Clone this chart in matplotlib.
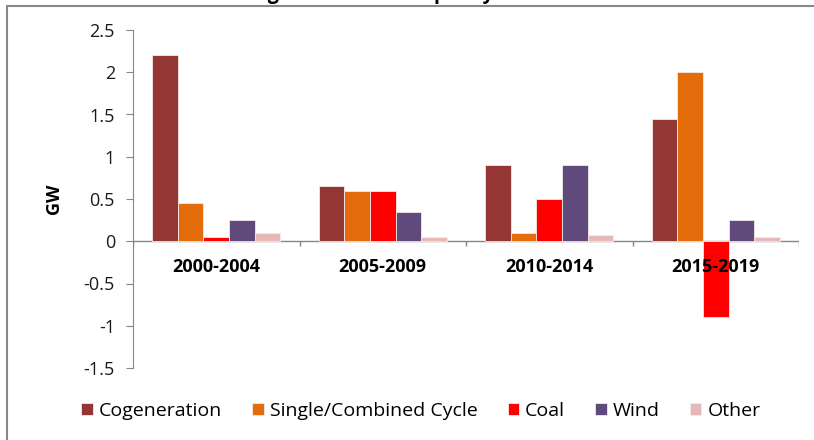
import numpy as np
import matplotlib.pyplot as plt
from matplotlib.patches import Rectangle

periods = ['2000-2004', '2005-2009', '2010-2014', '2015-2019']
types = ['Cogeneration', 'Single/Combined Cycle', 'Coal', 'Wind', 'Other']
cogeneration = [2.2, 0.65, 0.9, 1.45]
single_combined = [0.45, 0.6, 0.1, 2.0]
coal = [0.05, 0.6, 0.5, -0.9]
wind = [0.25, 0.35, 0.9, 0.25]
other = [0.1, 0.05, 0.07, 0.05]
colors = ['#943634', '#E46C0A', '#FF0000', '#604A7B', '#E6B9B8']
yticks = [-1.5, -1, -0.5, 0, 0.5, 1, 1.5, 2, 2.5]

plt.rcParams['font.family'] = ['Open Sans', 'DejaVu Sans']

fig = plt.figure(figsize=(8.14, 4.4), dpi=100)
ax = fig.add_axes([133/814, 1 - 368/440, 666/814, 338/440])

series = [cogeneration, single_combined, coal, wind, other]
x = np.arange(len(periods))
w = 1 / 6.5
handles = []
for k, (vals, c) in enumerate(zip(series, colors)):
    b = ax.bar(x + (k - 2) * w, vals, w, color=c, edgecolor='#f4eaea', lw=0.6, zorder=2)
    handles.append(b)

ax.set_xlim(-0.5, len(periods) - 0.5)
ax.set_ylim(-1.5, 2.5)
ax.set_yticks(yticks)
ax.set_yticklabels(['%g' % t for t in yticks])
ax.tick_params(axis='y', direction='out', length=5, color='#868686', labelsize=13,
               labelcolor='#1a1a1a', pad=8)
ax.set_xticks([])
for s in ['top', 'right', 'bottom']:
    ax.spines[s].set_visible(False)
ax.spines['left'].set_color('#868686')

# zero line with category tick marks
ax.axhline(0, color='#868686', lw=1, zorder=1)
ax.vlines(np.arange(len(periods) + 1) - 0.5, -0.06, 0, color='#868686', lw=1)
for i, p in enumerate(periods):
    ax.text(i, -0.3, p, ha='center', va='center', fontsize=13, fontweight='bold')

ax.set_ylabel('GW', fontsize=13, fontweight='bold', labelpad=15)

fig.legend(handles, types, loc='center', bbox_to_anchor=(0.517, 1 - 411/440), ncol=5,
           frameon=False, fontsize=14, handlelength=0.6, handleheight=0.6,
           handletextpad=0.3, columnspacing=1.55)

# outer chart border
fig.patches.append(Rectangle((7/814, -0.2), 1.2, 1.2 - 6/440, transform=fig.transFigure,
                             fill=False, edgecolor='#888888', lw=1.5))
fig.text(218/814, 1 + 1/440, 'Change in Installed Capacity', ha='left', va='baseline',
         fontsize=14, fontweight='bold')

fig.savefig('out.png', dpi=100)
